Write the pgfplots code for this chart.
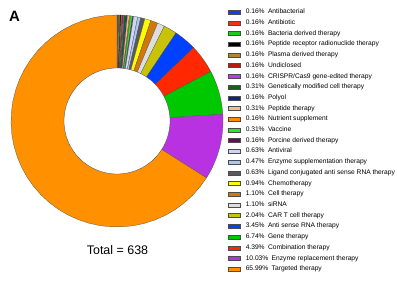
\documentclass[border=0pt]{standalone}
\usepackage{pgfplots}
\pgfplotsset{compat=1.18}
\usepackage{fontspec}
\setmainfont{Liberation Sans}
\definecolor{cA}{RGB}{20,60,240}
\definecolor{cB}{RGB}{240,50,20}
\definecolor{cC}{RGB}{30,200,30}
\definecolor{cD}{RGB}{0,0,0}
\definecolor{cE}{RGB}{180,130,50}
\definecolor{cF}{RGB}{180,30,10}
\definecolor{cG}{RGB}{190,60,230}
\definecolor{cH}{RGB}{20,100,20}
\definecolor{cI}{RGB}{20,30,140}
\definecolor{cJ}{RGB}{240,190,140}
\definecolor{cK}{RGB}{255,140,0}
\definecolor{cL}{RGB}{30,240,30}
\definecolor{cM}{RGB}{110,10,90}
\definecolor{cN}{RGB}{210,210,250}
\definecolor{cO}{RGB}{170,200,240}
\definecolor{cP}{RGB}{90,90,90}
\definecolor{cQ}{RGB}{255,250,0}
\definecolor{cR}{RGB}{210,120,10}
\definecolor{cS}{RGB}{222,222,222}
\definecolor{cT}{RGB}{200,195,10}
\definecolor{cU}{RGB}{0,64,255}
\definecolor{cV}{RGB}{0,200,0}
\definecolor{cW}{RGB}{255,40,0}
\definecolor{cX}{RGB}{185,50,225}
\definecolor{cY}{RGB}{255,145,0}
% slice: colour, start count, end count, legend text (total = 638)
\newcommand\slice[4]{%
  \addplot[fill=#1, draw=black!70, line width=0.25pt, domain=#2:#3, samples=40]
    ({cos(90-x*360/638)},{sin(90-x*360/638)}) -- (axis cs:0,0) -- cycle;
  \addlegendentry{#4}}
\begin{document}
\begin{tikzpicture}
\path[use as bounding box] (0,0) rectangle (397bp,-286bp);
\begin{axis}[at={(117bp,-121bp)}, anchor=center, scale only axis,
  width=212bp, height=212bp, xmin=-1, xmax=1, ymin=-1, ymax=1,
  hide axis, clip=false,
  legend cell align=left,
  legend style={at={(1.0236,1.028)}, anchor=north west, draw=none, fill=none,
    inner sep=0pt, outer sep=0pt, row sep=4.71bp, column sep=5.5bp,
    font=\fontsize{6.7}{7}\selectfont,
    nodes={inner sep=0pt, text height=4.7bp, text depth=1.3bp}},
  legend image code/.code={\draw[#1] (0bp,-2bp) rectangle (12bp,2bp);}]
\slice{cA}{0}{1}{0.16\%\hspace{0.5em}Antibacterial}
\slice{cB}{1}{2}{0.16\%\hspace{0.5em}Antibiotic}
\slice{cC}{2}{3}{0.16\%\hspace{0.5em}Bacteria derived therapy}
\slice{cD}{3}{4}{0.16\%\hspace{0.5em}Peptide receptor radionuclide therapy}
\slice{cE}{4}{5}{0.16\%\hspace{0.5em}Plasma derived therapy}
\slice{cF}{5}{6}{0.16\%\hspace{0.5em}Undiclosed}
\slice{cG}{6}{7}{0.16\%\hspace{0.5em}CRISPR/Cas9 gene-edited therapy}
\slice{cH}{7}{9}{0.31\%\hspace{0.5em}Genetically modified cell therapy}
\slice{cI}{9}{10}{0.16\%\hspace{0.5em}Polyol}
\slice{cJ}{10}{12}{0.31\%\hspace{0.5em}Peptide therapy}
\slice{cK}{12}{13}{0.16\%\hspace{0.5em}Nutrient supplement}
\slice{cL}{13}{15}{0.31\%\hspace{0.5em}Vaccine}
\slice{cM}{15}{16}{0.16\%\hspace{0.5em}Porcine derived therapy}
\slice{cN}{16}{20}{0.63\%\hspace{0.5em}Antiviral}
\slice{cO}{20}{23}{0.47\%\hspace{0.5em}Enzyme supplementation therapy}
\slice{cP}{23}{27}{0.63\%\hspace{0.5em}Ligand conjugated anti sense RNA therapy}
\slice{cQ}{27}{33}{0.94\%\hspace{0.5em}Chemotherapy}
\slice{cR}{33}{40}{1.10\%\hspace{0.5em}Cell therapy}
\slice{cS}{40}{47}{1.10\%\hspace{0.5em}siRNA}
\slice{cT}{47}{60}{2.04\%\hspace{0.5em}CAR T cell therapy}
\slice{cU}{60}{82}{3.45\%\hspace{0.5em}Anti sense RNA therapy}
\slice{cV}{110}{153}{6.74\%\hspace{0.5em}Gene therapy}
\slice{cW}{82}{110}{4.39\%\hspace{0.5em}Combination therapy}
\slice{cX}{153}{217}{10.03\%\hspace{0.5em}Enzyme replacement therapy}
\slice{cY}{217}{638}{65.99\%\hspace{0.5em}Targeted therapy}
\addplot[fill=white, draw=black!75, line width=0.3pt, domain=0:360, samples=120, forget plot]
  ({0.5*cos(x)},{0.5*sin(x)}) -- cycle;
\end{axis}
\node[font=\bfseries\fontsize{15}{15}\selectfont, anchor=base west, inner sep=0pt] at (9bp,-21.5bp) {A};
\node[font=\fontsize{12.5}{13}\selectfont, anchor=base, inner sep=0pt] at (117.5bp,-254bp) {Total = 638};
\end{tikzpicture}
\end{document}
